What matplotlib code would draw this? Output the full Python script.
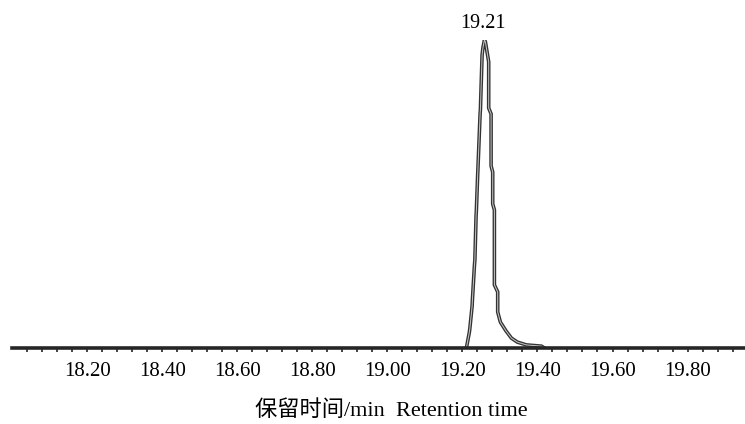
import matplotlib
matplotlib.use('Agg')
import matplotlib.pyplot as plt
import numpy as np

# retention time (min) and relative intensity (%)
rt = [19.2107, 19.2187, 19.2200, 19.2259, 19.2267, 19.2320, 19.2333, 19.2365,
      19.2373, 19.2408, 19.2413, 19.2472, 19.2480, 19.2525, 19.2547, 19.2587,
      19.2613, 19.2701, 19.2701, 19.2765, 19.2765, 19.2808, 19.2808, 19.2853,
      19.2853, 19.2941, 19.2941, 19.3013, 19.3165, 19.3307, 19.3467, 19.3707,
      19.4107, 19.4187]
intensity = [0, 5.2, 6.5, 13.6, 15.6, 26.6, 28.6, 42.9,
             44.8, 56.5, 57.8, 76.0, 77.3, 95.1, 97.4, 100,
             99.4, 92.9, 77.9, 76.0, 59.1, 57.1, 46.8, 44.8,
             20.5, 18.2, 11.7, 8.4, 5.5, 3.2, 1.9, 1.0,
             0.6, 0]
peak_label = '19.21'
tick_labels = ['18.20', '18.40', '18.60', '18.80', '19.00', '19.20', '19.40', '19.60', '19.80']
xlabel = '保留时间/min  Retention time'

fonts = ['Liberation Serif', 'Noto Sans CJK SC']

fig = plt.figure(figsize=(7.45, 4.24), dpi=100)
ax = fig.add_axes([12 / 745, 76 / 424, 733 / 745, 308 / 424])

# trace drawn as a dark outline with a light core, like the scanned line
ax.plot(rt, intensity, color='#333333', lw=2.6, solid_joinstyle='miter', zorder=3)
ax.plot(rt, intensity, color='#c8c8c8', lw=0.7, zorder=4)

ax.annotate(peak_label, xy=(rt[intensity.index(100)], 100), xytext=(-1, 12),
            textcoords='offset points', ha='center', va='center',
            fontsize=14.5, family=fonts, annotation_clip=False)

ax.set_xlim(18.0, 19.953)
ax.set_ylim(0, 100)

for s in ['left', 'right', 'top']:
    ax.spines[s].set_visible(False)
ax.spines['bottom'].set_linewidth(2.6)
ax.spines['bottom'].set_color('#262626')
ax.spines['bottom'].set_zorder(5)
ax.set_yticks([])

ax.set_xticks([18.2 + 0.2 * i for i in range(len(tick_labels))])
ax.set_xticklabels(tick_labels, fontsize=15, family=fonts)
ax.set_xticks(np.arange(18.04, 19.95, 0.04), minor=True)
ax.tick_params(axis='x', which='both', direction='out', length=3, width=1.2,
               color='#262626', pad=7)
ax.tick_params(axis='x', which='minor', length=3)

ax.set_xlabel(xlabel, fontsize=16, family=fonts)
ax.xaxis.set_label_coords(0.517, -0.2045)
ax.xaxis.label.set_va('center')

fig.savefig('out.png', dpi=100)
